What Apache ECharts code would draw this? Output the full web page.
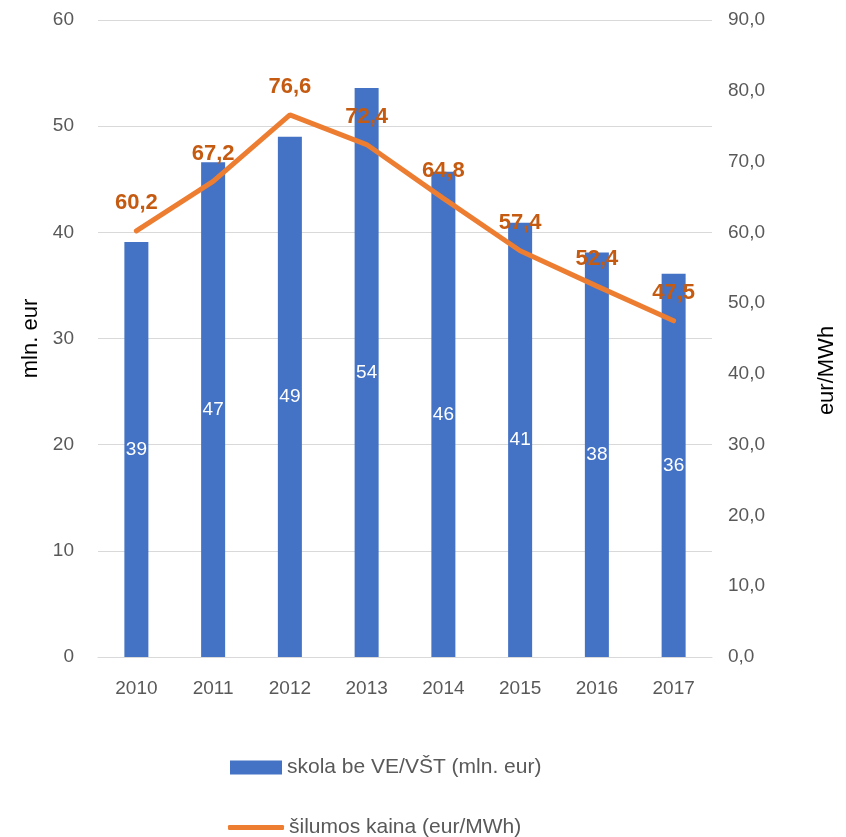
<!DOCTYPE html>
<html>
<head>
<meta charset="utf-8">
<script src="https://cdn.jsdelivr.net/npm/echarts@6/dist/echarts.min.js"></script>
<style>
  html, body { margin: 0; padding: 0; background: #fff; }
  #main { width: 846px; height: 837px; }
</style>
</head>
<body>
<div id="main"></div>
<script>
var years = ['2010', '2011', '2012', '2013', '2014', '2015', '2016', '2017'];
var skola = [39.1, 46.6, 49.0, 53.6, 45.7, 40.9, 38.1, 36.1];
var kaina = [60.2, 67.2, 76.6, 72.4, 64.8, 57.4, 52.4, 47.5];
var leftTicks = [0, 10, 20, 30, 40, 50, 60];
var rightTicks = [0, 10, 20, 30, 40, 50, 60, 70, 80, 90];

var font = 'Liberation Sans';
var txt = '#595959';
var nameBar = 'skola be VE/VŠT (mln. eur)';
var nameLine = 'šilumos kaina (eur/MWh)';

var myChart = echarts.init(document.getElementById('main'));
var option = {
    textStyle: { fontFamily: font },
    grid: { left: 98, right: 128, top: 20, bottom: 180 },
    legend: [{
        left: 225,
        top: 752,
        itemWidth: 52,
        itemHeight: 14,
        textStyle: { fontSize: 21, color: txt, fontFamily: font },
        data: [{ name: nameBar, icon: 'rect' }]
    }, {
        left: 223,
        top: 812,
        itemWidth: 56,
        itemHeight: 5,
        textStyle: { fontSize: 21, color: txt, fontFamily: font },
        data: [{ name: nameLine, icon: 'roundRect' }]
    }],
    xAxis: {
        type: 'category',
        data: years,
        axisTick: { show: false },
        axisLine: { lineStyle: { color: '#d9d9d9', width: 1 } },
        axisLabel: { fontSize: 19, color: txt, margin: 22 }
    },
    yAxis: [{
        type: 'value',
        min: leftTicks[0],
        max: leftTicks[leftTicks.length - 1],
        interval: 10,
        name: 'mln. eur',
        nameLocation: 'middle',
        nameGap: 56,
        nameTextStyle: { fontSize: 22, color: '#000' },
        axisLabel: { fontSize: 19, color: txt, margin: 24 },
        splitLine: { lineStyle: { color: '#d9d9d9' } }
    }, {
        type: 'value',
        min: rightTicks[0],
        max: rightTicks[rightTicks.length - 1],
        interval: 10,
        name: 'eur/MWh',
        nameLocation: 'middle',
        nameGap: 104,
        nameRotate: 90,
        nameTextStyle: { fontSize: 22, color: '#000', padding: [0, 64, 0, 0] },
        axisLabel: {
            fontSize: 19, color: txt, margin: 16,
            formatter: function (v) { return v.toFixed(1).replace('.', ','); }
        },
        splitLine: { show: false }
    }],
    series: [{
        name: nameBar,
        type: 'bar',
        data: skola,
        barWidth: 24,
        itemStyle: { color: '#4472c4' },
        label: {
            show: true,
            position: 'inside',
            color: '#fff',
            fontSize: 19,
            formatter: function (p) { return Math.round(p.value); }
        }
    }, {
        name: nameLine,
        type: 'line',
        yAxisIndex: 1,
        data: kaina,
        symbol: 'circle',
        symbolSize: 1,
        lineStyle: { color: '#ed7d31', width: 5, cap: 'round' },
        itemStyle: { color: '#ed7d31' },
        label: {
            show: true,
            position: 'top',
            distance: 16,
            color: '#c55a11',
            fontSize: 22,
            fontWeight: 'bold',
            formatter: function (p) { return p.value.toFixed(1).replace('.', ','); }
        }
    }]
};
myChart.setOption(option);
</script>
</body>
</html>
